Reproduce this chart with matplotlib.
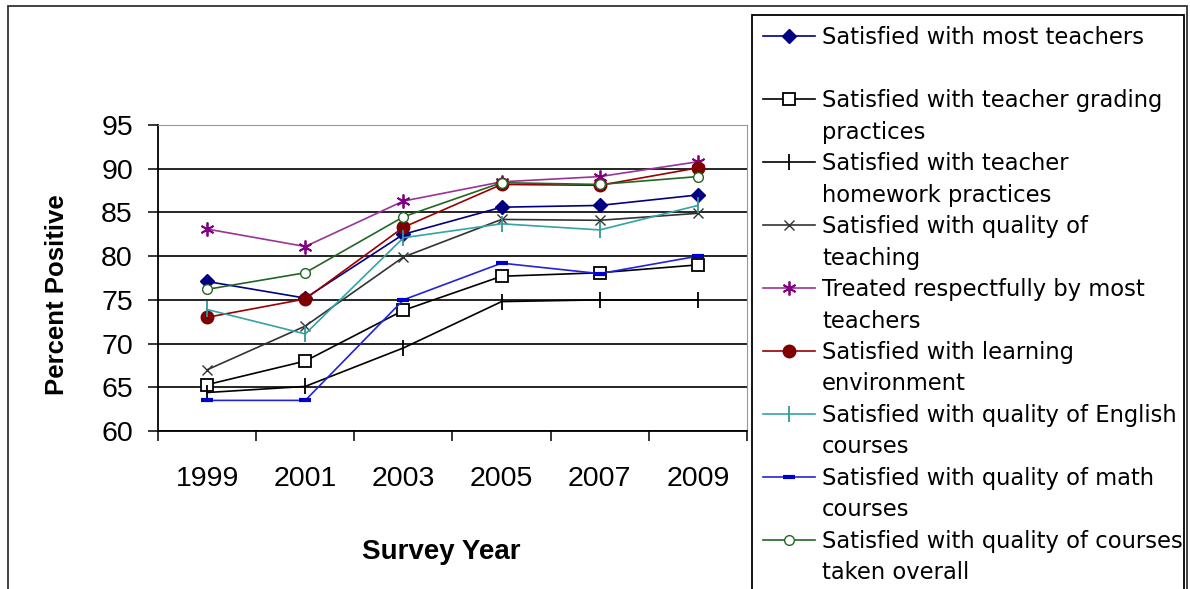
import matplotlib
matplotlib.use("Agg")
import matplotlib.pyplot as plt
from matplotlib.lines import Line2D
from matplotlib.patches import Rectangle

years = ['1999', '2001', '2003', '2005', '2007', '2009']

most_teachers = [77.1, 75.2, 82.5, 85.6, 85.8, 87.0]
grading = [65.3, 68.0, 73.8, 77.7, 78.1, 79.0]
homework = [64.4, 65.1, 69.5, 74.8, 75.0, 75.0]
quality_teaching = [67.0, 72.0, 79.9, 84.2, 84.1, 84.9]
respectfully = [83.1, 81.1, 86.3, 88.5, 89.1, 90.8]
learning_env = [73.0, 75.1, 83.3, 88.2, 88.1, 90.1]
english = [73.9, 71.1, 82.1, 83.7, 83.0, 85.8]
math = [63.5, 63.5, 75.0, 79.2, 78.0, 80.0]
overall = [76.2, 78.1, 84.5, 88.4, 88.2, 89.1]

# legend text, wrapped the way the original legend wraps it
labels = [
    ('Satisfied with most teachers', ' '),
    ('Satisfied with teacher grading', 'practices'),
    ('Satisfied with teacher', 'homework practices'),
    ('Satisfied with quality of', 'teaching'),
    ('Treated respectfully by most', 'teachers'),
    ('Satisfied with learning', 'environment'),
    ('Satisfied with quality of English', 'courses'),
    ('Satisfied with quality of math', 'courses'),
    ('Satisfied with quality of courses', 'taken overall'),
]

fig = plt.figure(figsize=(11.9, 5.89), dpi=100)
ax = fig.add_axes([158 / 1190, 1 - 431 / 589, 589 / 1190, 306 / 589])

x = list(range(len(years)))
lw = 1.2
lines = []
lines += ax.plot(x, most_teachers, color='#000080', lw=lw, marker='D', ms=7, mfc='#000080', mec='#000080')
lines += ax.plot(x, grading, color='black', lw=lw, marker='s', ms=9, mfc='white', mec='black', mew=1.3)
lines += ax.plot(x, homework, color='black', lw=lw, marker='|', ms=11, mec='black', mew=1.3)
lines += ax.plot(x, quality_teaching, color='#333333', lw=lw, marker='x', ms=7, mec='#333333', mew=1.0)
lines += ax.plot(x, respectfully, color='#993399', lw=lw, marker=(6, 2, 0), ms=10, mec='#800080', mew=1.3)
lines += ax.plot(x, learning_env, color='#990000', lw=lw, marker='o', ms=9, mfc='#800000', mec='#800000')
lines += ax.plot(x, english, color='#33A3A3', lw=lw, marker='|', ms=11, mec='#339999', mew=1.3)
lines += ax.plot(x, math, color='#2222DD', lw=lw, marker='_', ms=8, mec='#0000CC', mew=3)
lines += ax.plot(x, overall, color='#226622', lw=lw, marker='o', ms=7, mfc='white', mec='#226622', mew=1.0)

ax.set_xlim(-0.5, 5.5)
ax.set_ylim(60, 95)
ax.set_yticks(range(60, 96, 5))
ax.yaxis.grid(True, color='black', lw=1.2)
ax.set_axisbelow(True)

ax.set_xticks([i - 0.5 for i in range(len(years) + 1)])
ax.set_xticklabels([])
ax.set_xticks(x, minor=True)
ax.set_xticklabels(years, minor=True)
ax.tick_params(axis='x', which='major', direction='out', length=7, width=1.1)
ax.tick_params(axis='x', which='minor', length=0, pad=25, labelsize=20.5)
ax.tick_params(axis='y', direction='out', length=7, width=1.1, pad=11, labelsize=20.5)
for t in ax.get_xticklabels(minor=True) + ax.get_yticklabels():
    t.set_family('Liberation Sans')

ax.spines['left'].set_linewidth(1.3)
ax.spines['bottom'].set_linewidth(1.3)
ax.spines['top'].set_color('#999999')
ax.spines['right'].set_color('#999999')

ax.set_ylabel('Percent Positive', fontsize=18.5, fontweight='bold', family='Liberation Sans', va='center')
ax.yaxis.set_label_coords(-0.172, 0.445)
ax.set_xlabel('Survey Year', fontsize=20, fontweight='bold', family='Liberation Sans', va='center')
ax.xaxis.set_label_coords(0.4805, -0.395)

# one legend row per text line; the second line of each entry gets an empty handle
handles, texts = [], []
for ln, (first, second) in zip(lines, labels):
    handles += [ln, Line2D([], [], alpha=0)]
    texts += [first, second]

leg = fig.legend(handles, texts, loc='upper left',
                 bbox_to_anchor=(752 / 1190, 1 - 15 / 589, 432 / 1190, 0),
                 mode='expand', fancybox=False, edgecolor='black', framealpha=1,
                 prop={'family': 'DejaVu Sans', 'size': 16.3}, handlelength=2.3,
                 handletextpad=0.3, borderpad=0.5, labelspacing=0.374, borderaxespad=0)
leg.get_frame().set_linewidth(1.3)

fig.patches.append(Rectangle((8 / 1190, -0.1), 1179 / 1190, 1.1 - 6 / 589, transform=fig.transFigure,
                             fill=False, edgecolor='#333333', lw=1.3))

fig.savefig('out.png', dpi=100)
